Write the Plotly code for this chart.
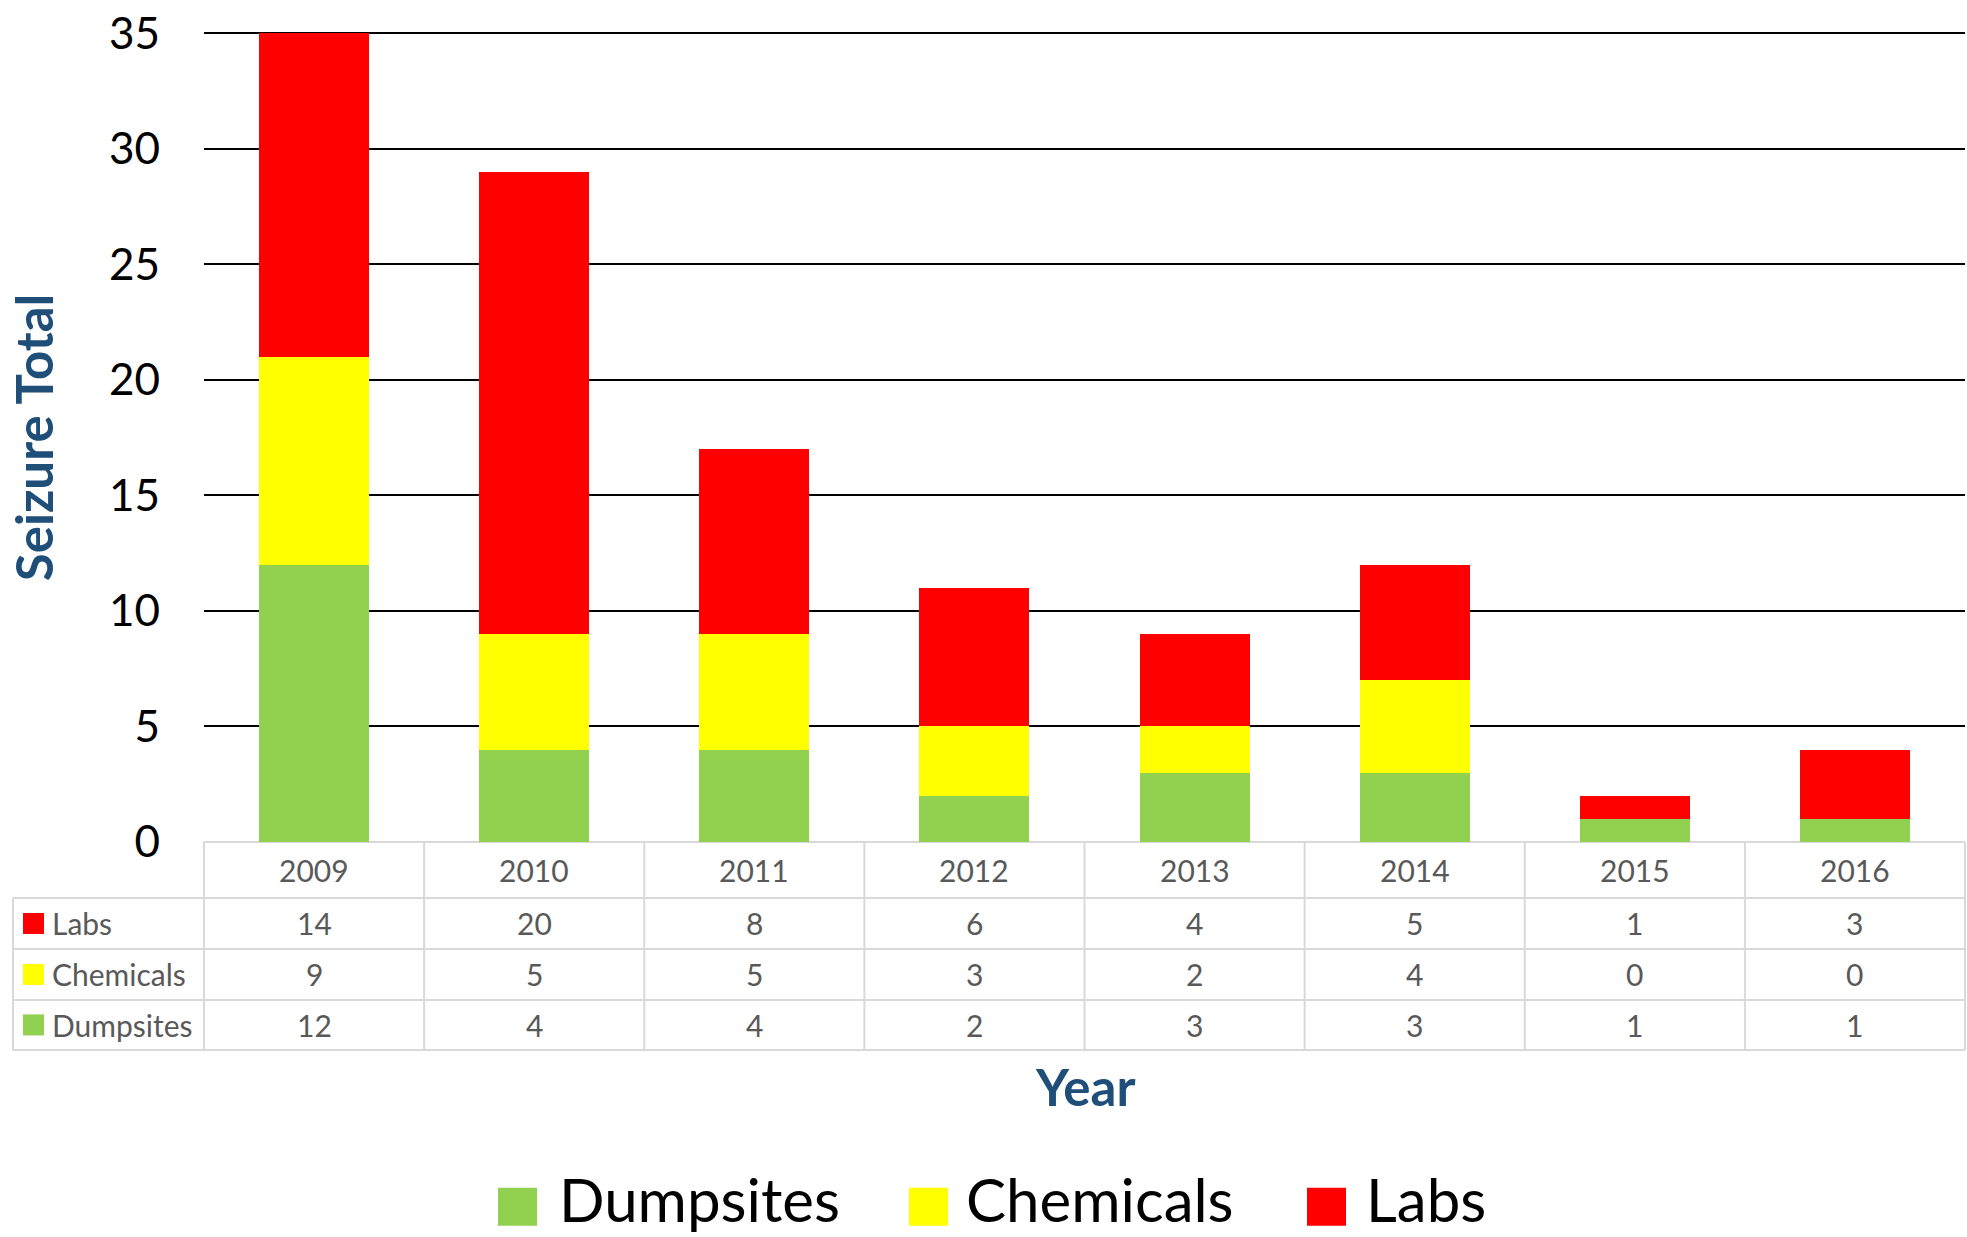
import plotly.graph_objects as go

# ---- data ----
years = ["2009", "2010", "2011", "2012", "2013", "2014", "2015", "2016"]
dumpsites = [12, 4, 4, 2, 3, 3, 1, 1]
chemicals = [9, 5, 5, 3, 2, 4, 0, 0]
labs = [14, 20, 8, 6, 4, 5, 1, 3]
series_names = ["Dumpsites", "Chemicals", "Labs"]
y_ticks = [0, 5, 10, 15, 20, 25, 30, 35]

# ---- styling ----
GREEN, YELLOW, RED = "#92D050", "#FFFF00", "#FF0000"
TITLE_BLUE = "#1F4E79"
TABLE_GRAY = "#595959"
LINE_GRAY = "#D9D9D9"
FONT = "Lato, 'Open Sans', sans-serif"

W, H = 1967, 1237
Y_TOP = 35.1
ZERO_PX, TOP_PX = 842, 33          # pixel rows of y=0 and y=35
unit = (ZERO_PX - TOP_PX) / 35.0
L, R = 204, 2
T = ZERO_PX - unit * Y_TOP
B = H - ZERO_PX
PW, PH = W - L - R, H - T - B


def px(x):
    return (x - L) / PW


def py(y):
    return (H - B - y) / PH


fig = go.Figure()
for name, vals, col in [("Dumpsites", dumpsites, GREEN),
                        ("Chemicals", chemicals, YELLOW),
                        ("Labs", labs, RED)]:
    fig.add_trace(go.Bar(x=years, y=vals, name=name, marker_color=col,
                         marker_line_width=0, showlegend=False))

shapes = []
annotations = []

# ---- data table below the plot ----
row_edges = [842, 898, 949, 1000, 1050]
rows = [("Labs", labs, RED), ("Chemicals", chemicals, YELLOW), ("Dumpsites", dumpsites, GREEN)]
line = dict(color=LINE_GRAY, width=2)
for ye in row_edges[1:]:
    shapes.append(dict(type="line", xref="paper", yref="paper", x0=px(13), x1=1,
                       y0=py(ye), y1=py(ye), line=line))
shapes.append(dict(type="line", xref="paper", yref="paper", x0=px(13), x1=px(13),
                   y0=py(898), y1=py(1050), line=line))
n = len(years)
for k in range(n + 1):
    shapes.append(dict(type="line", xref="paper", yref="paper", x0=k / n, x1=k / n,
                       y0=py(842), y1=py(1050), line=line))

cell_font = dict(family=FONT, size=30, color=TABLE_GRAY)
for i, yr in enumerate(years):
    annotations.append(dict(x=i, xref="x", y=py((842 + 898) / 2), yref="paper",
                            text=yr, showarrow=False, xanchor="center", yanchor="middle",
                            font=cell_font))
for r, (name, vals, col) in enumerate(rows):
    yc = (row_edges[r + 1] + row_edges[r + 2]) / 2
    shapes.append(dict(type="rect", xref="paper", yref="paper",
                       x0=px(23), x1=px(44), y0=py(yc - 10.5), y1=py(yc + 10.5),
                       fillcolor=col, line=dict(width=0)))
    annotations.append(dict(x=px(50), xref="paper", y=py(yc), yref="paper", text=name,
                            showarrow=False, xanchor="left", yanchor="middle",
                            font=cell_font))
    for i, v in enumerate(vals):
        annotations.append(dict(x=i, xref="x", y=py(yc), yref="paper", text=str(v),
                                showarrow=False, xanchor="center", yanchor="middle",
                                font=cell_font))

# ---- axis titles ----
annotations.append(dict(x=px(33), xref="paper", y=py(438), yref="paper",
                        text="<b>Seizure Total</b>", textangle=-90, showarrow=False,
                        xanchor="center", yanchor="middle",
                        font=dict(family=FONT, size=51, color=TITLE_BLUE)))
annotations.append(dict(x=px(1085), xref="paper", y=py(1087), yref="paper",
                        text="<b>Year</b>", showarrow=False,
                        xanchor="center", yanchor="middle",
                        font=dict(family=FONT, size=51, color=TITLE_BLUE)))

# ---- bottom legend ----
leg = [("Dumpsites", GREEN, 498, 557), ("Chemicals", YELLOW, 909, 964), ("Labs", RED, 1307, 1364)]
for name, col, x0, xt in leg:
    shapes.append(dict(type="rect", xref="paper", yref="paper",
                       x0=px(x0), x1=px(x0 + 39), y0=py(1188), y1=py(1226),
                       fillcolor=col, line=dict(width=0)))
    annotations.append(dict(x=px(xt), xref="paper", y=py(1199), yref="paper",
                            text=name, showarrow=False, xanchor="left", yanchor="middle",
                            font=dict(family=FONT, size=60, color="#000000")))

fig.update_layout(
    width=W, height=H,
    margin=dict(l=L, r=R, t=T, b=B),
    barmode="stack", bargap=0.5,
    plot_bgcolor="white", paper_bgcolor="white",
    shapes=shapes, annotations=annotations,
    showlegend=False,
    xaxis=dict(type="category", showticklabels=False, showgrid=False, zeroline=False,
               showline=False, range=[-0.5, 7.5], ticks=""),
    yaxis=dict(range=[0, Y_TOP], tickvals=y_ticks, showgrid=True, gridcolor="#000000",
               gridwidth=1.5, zeroline=True, zerolinecolor=LINE_GRAY, zerolinewidth=2,
               showline=False, ticks="", ticklabelstandoff=43,
               tickfont=dict(family=FONT, size=44, color="#000000")),
)

fig.write_html("out.html", config={"displayModeBar": False},
               post_script="document.body.style.margin='0';document.body.style.overflow='hidden';")
